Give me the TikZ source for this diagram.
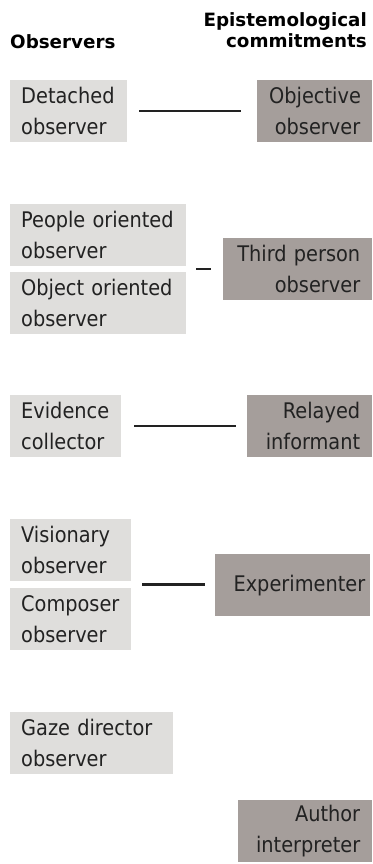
\documentclass[tikz,border=0pt]{standalone}
\usepackage{fontspec}
\setmainfont{DejaVu Sans Condensed}
\newfontfamily\headfamily{DejaVu Sans}
\usetikzlibrary{calc}

\definecolor{obsgray}{HTML}{DFDEDC}
\definecolor{epigray}{HTML}{A59E9B}
\definecolor{inkgray}{HTML}{222222}

\newcommand{\boxfont}{\fontsize{21.5}{31}\selectfont}
\newcommand{\headfont}{\headfamily\bfseries\fontsize{18.3}{21}\selectfont}

\tikzset{
    obsbox/.style={fill=obsgray, anchor=north west, inner xsep=11pt, inner ysep=0pt,
        minimum height=62pt, align=left, font=\boxfont, text=inkgray},
    epibox/.style={fill=epigray, anchor=north west, inner xsep=12pt, inner ysep=0pt,
        minimum height=62pt, align=right, font=\boxfont, text=inkgray},
    link/.style={draw=inkgray, line width=2.5pt}
}

\begin{document}
\begin{tikzpicture}[x=1pt, y=-1pt]
    \useasboundingbox (0,0) rectangle (372,864);

    % column heads
    \node[anchor=base west, inner sep=0pt, font=\headfont] (hobs) at (10,48.5) {Observers};
    \node[anchor=north east, inner sep=0pt, align=right, font=\headfont] (hepi) at (367,12)
        {Epistemological\\commitments};

    \node[obsbox, text width=95pt] (det) at (10,80) {Detached\\observer};
    \node[epibox, text width=91pt] (obj) at (257,80) {Objective\\observer};

    \node[obsbox, text width=154pt] (people) at (10,204) {People oriented\\observer};
    \node[obsbox, text width=154pt] (object) at (10,272) {Object oriented\\observer};
    \node[epibox, text width=125pt] (third) at (223,238) {Third person\\observer};

    \node[obsbox, text width=89pt] (evid) at (10,395) {Evidence\\collector};
    \node[epibox, text width=101pt] (relay) at (247,395) {Relayed\\informant};

    \node[obsbox, text width=99pt] (vis) at (10,519) {Visionary\\observer};
    \node[obsbox, text width=99pt] (comp) at (10,588) {Composer\\observer};
    \node[epibox, inner xsep=5pt, text width=145pt] (exper) at (215,554) {Experimenter};

    \node[obsbox, text width=141pt] (gaze) at (10,712) {Gaze director\\observer};
    \node[epibox, text width=110pt] (author) at (238,800) {Author\\interpreter};

    \coordinate (po) at ($(people.south east)!0.5!(object.north east)$);
    \coordinate (vc) at ($(vis.south east)!0.5!(comp.north east)$);

    \draw[link, shorten <=12pt, shorten >=16pt] (det) -- (obj);
    \draw[link, shorten <=10pt, shorten >=12pt] (po) -- (po -| third.west);
    \draw[link, shorten <=13pt, shorten >=11pt] (evid) -- (relay);
    \draw[link, shorten <=11pt, shorten >=10pt] (vc) -- (vc -| exper.west);
\end{tikzpicture}
\end{document}
